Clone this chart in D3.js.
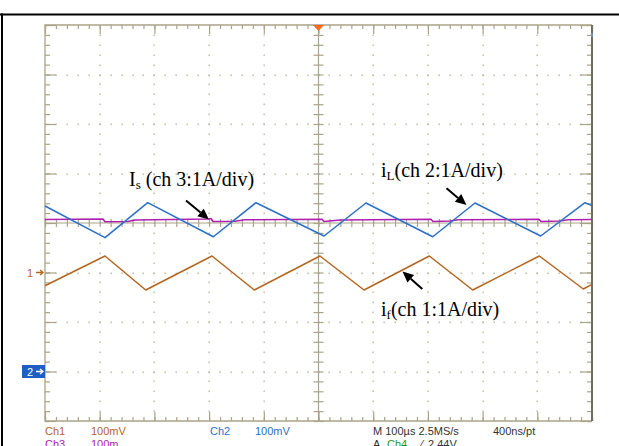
<!DOCTYPE html>
<html>
<head>
<meta charset="utf-8">
<script src="https://cdn.jsdelivr.net/npm/d3@7"></script>
<style>
  html, body { margin: 0; padding: 0; background: #fff; }
  svg { display: block; }
</style>
</head>
<body>
<svg id="chart" width="619" height="446"></svg>
<script>
// ---- data (time in µs, values in screen divisions) ----
const timeIL = [0, 109.7, 187.8, 307.7, 385.7, 510.1, 586.8, 708.8, 786.1, 906.2, 987.2, 1000];
const valIL  = [0.343, -0.297, 0.41, -0.277, 0.41, -0.263, 0.404, -0.277, 0.404, -0.263, 0.41, 0.35];

const timeIF = [0, 109.7, 184.1, 305.3, 382.6, 502.7, 583.2, 702.6, 781.9, 903.7, 984.1, 1000];
const valIF  = [-1.267, -0.667, -1.354, -0.667, -1.354, -0.667, -1.354, -0.667, -1.354, -0.667, -1.333, -1.24];

const timeIS = [0, 106.0, 109.7, 151.7, 164.5, 299.8, 303.5, 307.1, 347.3, 365.6, 506.4, 510.1, 539.3, 705.7, 709.3, 740.4, 755.0, 903.1, 906.8, 941.5, 956.1, 1000];
const valIS  = [0.071, 0.081, 0.026, 0.030, 0.061, 0.081, 0.091, 0.030, 0.034, 0.065, 0.075, 0.030, 0.061, 0.075, 0.030, 0.040, 0.065, 0.075, 0.030, 0.040, 0.065, 0.071];

const xDomain = [0, 1000];      // 10 div × 100 µs
const yDomain = [-4, 4];        // 8 vertical divisions
const ch1Ground = -1, ch2Ground = -3;

const footLine1 = [
  {t: "Ch1", c: "ch1"}, {t: "100mV", c: "ch1"}, {t: "Ch2", c: "ch2"}, {t: "100mV", c: "ch2"},
  {t: "M 100µs 2.5MS/s", c: "dark"}, {t: "400ns/pt", c: "dark"}
];
const footLine2 = [
  {t: "Ch3", c: "ch3"}, {t: "100m", c: "ch3"}, {t: "A", c: "dark"}, {t: "Ch4", c: "ch4"},
  {t: "⁄", c: "dark"}, {t: "2.44V", c: "dark"}
];

// ---- layout ----
const colors = {ch1: "#b5651d", ch2: "#2a6fc9", ch3: "#b020b0", ch4: "#1a9a1a", dark: "#333333"};
const L = 45, R = 592, T = 25, B = 421;
const svg = d3.select("#chart");
const x = d3.scaleLinear(xDomain, [L, R]);
const y = d3.scaleLinear(yDomain, [B, T]);
const gridCol = "#a9a488", dotCol = "#b9b59f";

// outer black frame
svg.append("rect").attr("x", 0).attr("y", 13.5).attr("width", 619).attr("height", 2).attr("fill", "#000");
svg.append("rect").attr("x", 1).attr("y", 13.5).attr("width", 2).attr("height", 446).attr("fill", "#000");

const g = svg.append("g");

// dotted graticule
const minorX = d3.range(0, 1000.1, 20);
const majorX = d3.range(0, 1000.1, 100);
const minorY = d3.range(-4, 4.01, 0.2).map(v => +v.toFixed(2));
const majorY = d3.range(-4, 4.01, 1);

const dots = [];
majorX.filter(v => v > 0 && v < 1000 && v !== 500).forEach(xv =>
  minorY.filter(yv => yv > -4 && yv < 4).forEach(yv => dots.push([xv, yv])));
majorY.filter(v => v > -4 && v < 4 && v !== 0).forEach(yv =>
  minorX.filter(xv => xv > 0 && xv < 1000).forEach(xv => dots.push([xv, yv])));
g.selectAll("rect.dot").data(dots).join("rect").attr("class", "dot")
  .attr("x", d => Math.round(x(d[0])) - 0.5).attr("y", d => Math.round(y(d[1])) - 0.5)
  .attr("width", 1.3).attr("height", 1.6).attr("fill", dotCol);

// center cross lines
g.append("line").attr("x1", L).attr("x2", R).attr("y1", y(0)).attr("y2", y(0)).attr("stroke", gridCol).attr("stroke-width", 1.2);
g.append("line").attr("x1", x(500)).attr("x2", x(500)).attr("y1", T).attr("y2", B).attr("stroke", gridCol).attr("stroke-width", 1.2);

function styleAxis(sel) {
  sel.select(".domain").remove();
  sel.selectAll("text").remove();
  sel.selectAll("line").attr("stroke", gridCol).attr("stroke-width", 1.2);
}
function addAxis(axis, tr) { g.append("g").attr("transform", tr).call(axis).call(styleAxis); }

// border ticks (inward)
addAxis(d3.axisTop(x).tickValues(minorX).tickSize(-4), `translate(0,${T})`);
addAxis(d3.axisTop(x).tickValues(majorX).tickSize(-9), `translate(0,${T})`);
addAxis(d3.axisBottom(x).tickValues(minorX).tickSize(-4), `translate(0,${B})`);
addAxis(d3.axisBottom(x).tickValues(majorX).tickSize(-9), `translate(0,${B})`);
addAxis(d3.axisLeft(y).tickValues(minorY).tickSize(-5), `translate(${L},0)`);
addAxis(d3.axisLeft(y).tickValues(majorY).tickSize(-11), `translate(${L},0)`);
addAxis(d3.axisRight(y).tickValues(minorY).tickSize(-5), `translate(${R},0)`);
addAxis(d3.axisRight(y).tickValues(majorY).tickSize(-12), `translate(${R},0)`);
// center ticks (crossing)
addAxis(d3.axisTop(x).tickValues(minorX).tickSize(4), `translate(0,${y(0)})`);
addAxis(d3.axisBottom(x).tickValues(minorX).tickSize(4), `translate(0,${y(0)})`);
addAxis(d3.axisLeft(y).tickValues(minorY).tickSize(5), `translate(${x(500)},0)`);
addAxis(d3.axisRight(y).tickValues(minorY).tickSize(5), `translate(${x(500)},0)`);

// border
g.append("path").attr("d", `M${R},${T}H${L}V${B}H${R}`).attr("fill", "none").attr("stroke", gridCol).attr("stroke-width", 1.3);
g.append("line").attr("x1", R).attr("x2", R).attr("y1", T).attr("y2", B).attr("stroke", "#6f6d5e").attr("stroke-width", 2);
g.append("line").attr("x1", R).attr("x2", R).attr("y1", T + 8).attr("y2", T + 12).attr("stroke", "#6d8fc0").attr("stroke-width", 2);

// trigger marker
svg.append("path").attr("d", `M${x(500) - 5.5},${T}L${x(500) + 5.5},${T}L${x(500)},${T + 6}Z`).attr("fill", "#ff6a1a");

// channel ground markers
svg.append("text").attr("x", 27).attr("y", y(ch1Ground) + 4).attr("font-family", "Liberation Sans, Arial, sans-serif")
  .attr("font-size", 11).attr("fill", colors.ch1).text("1");
svg.append("path").attr("d", `M36,${y(ch1Ground)}H43M40,${y(ch1Ground) - 2.5}L43,${y(ch1Ground)}L40,${y(ch1Ground) + 2.5}`)
  .attr("stroke", colors.ch1).attr("stroke-width", 1.3).attr("fill", "none");
svg.append("rect").attr("x", 22).attr("y", y(ch2Ground) - 6.5).attr("width", 23).attr("height", 13).attr("fill", "#1f5fc4");
svg.append("text").attr("x", 27).attr("y", y(ch2Ground) + 4).attr("font-family", "Liberation Sans, Arial, sans-serif")
  .attr("font-size", 11).attr("fill", "#fff").text("2");
svg.append("path").attr("d", `M36,${y(ch2Ground)}H43M40,${y(ch2Ground) - 2.5}L43,${y(ch2Ground)}L40,${y(ch2Ground) + 2.5}`)
  .attr("stroke", "#fff").attr("stroke-width", 1.3).attr("fill", "none");

// waveforms
const line = d3.line().x(d => x(d[0])).y(d => y(d[1]));
function trace(ts, vs, col, w) {
  svg.append("path").datum(ts.map((t, i) => [t, vs[i]])).attr("d", line)
    .attr("fill", "none").attr("stroke", col).attr("stroke-width", w).attr("stroke-linejoin", "round");
}
trace(timeIS, valIS, colors.ch3, 1.6);
trace(timeIL, valIL, colors.ch2, 1.5);
trace(timeIF, valIF, colors.ch1, 1.5);

// annotations
const serif = "Liberation Serif, Times New Roman, serif";
function label(xp, yp, main, sub, rest) {
  const t = svg.append("text").attr("x", xp).attr("y", yp).attr("font-family", serif).attr("font-size", 20).attr("fill", "#000");
  t.append("tspan").text(main);
  t.append("tspan").attr("font-size", 13).attr("dy", 3).text(sub);
  t.append("tspan").attr("dy", -3).text(rest);
}
label(129, 186, "I", "s", " (ch 3:1A/div)");
label(381, 177, "i", "L", "(ch 2:1A/div)");
label(381, 316, "i", "f", "(ch 1:1A/div)");

function arrow(x1, y1, x2, y2) {
  const a = Math.atan2(y2 - y1, x2 - x1), hl = 11, hw = 5;
  const bx = x2 - hl * Math.cos(a), by = y2 - hl * Math.sin(a);
  svg.append("line").attr("x1", x1).attr("y1", y1).attr("x2", bx).attr("y2", by).attr("stroke", "#000").attr("stroke-width", 2);
  svg.append("path").attr("d", `M${x2},${y2}L${bx + hw * Math.sin(a)},${by - hw * Math.cos(a)}L${bx - hw * Math.sin(a)},${by + hw * Math.cos(a)}Z`).attr("fill", "#000");
}
arrow(186, 200.5, 209, 219.5);
arrow(446.5, 188.3, 466.5, 205);
arrow(422.3, 289, 402.5, 271.5);

// footer text
const sans = "Liberation Sans, Arial, sans-serif";
const xs1 = [45, 91, 210, 255, 373, 493];
const xs2 = [45, 91, 373, 387, 421, 428];
function foot(items, xs, yb) {
  svg.selectAll(null).data(items).join("text").attr("x", (d, i) => xs[i]).attr("y", yb)
    .attr("font-family", sans).attr("font-size", 11).attr("fill", d => colors[d.c]).text(d => d.t);
}
foot(footLine1, xs1, 435);
foot(footLine2, xs2, 448);
</script>
</body>
</html>
